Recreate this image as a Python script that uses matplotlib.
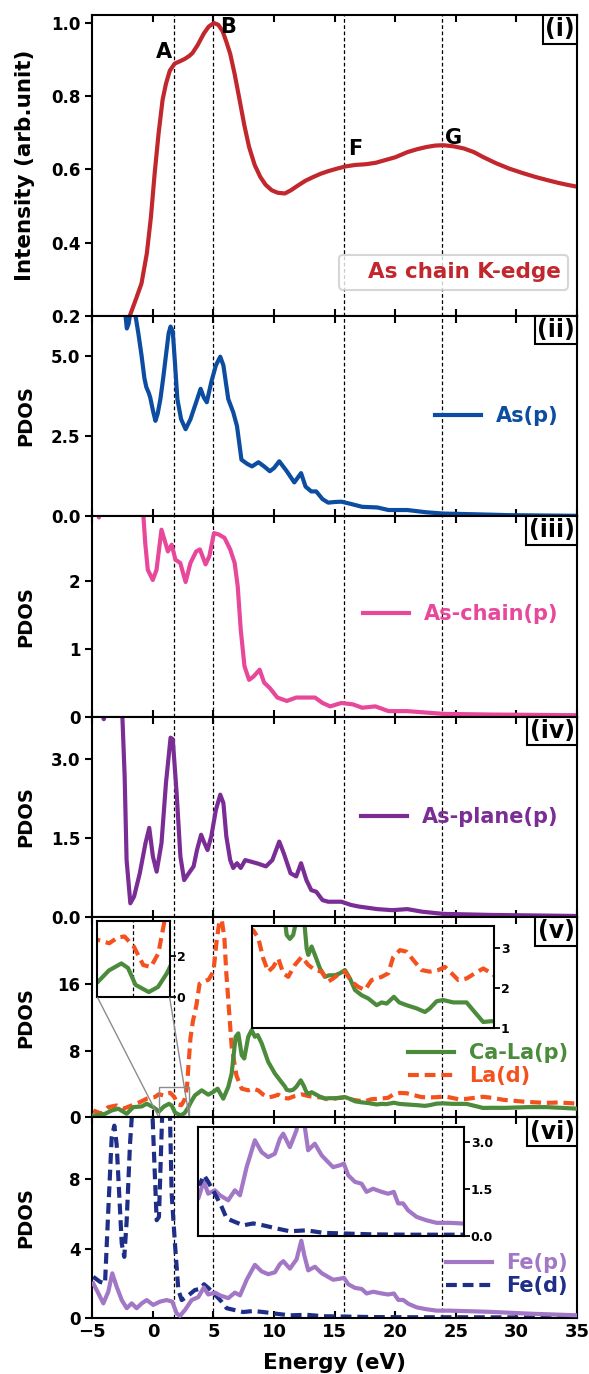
import matplotlib
matplotlib.use('Agg')
import matplotlib.pyplot as plt
from matplotlib.offsetbox import AnchoredText
from mpl_toolkits.axes_grid1.inset_locator import mark_inset

# ---- data ----
# As chain K-edge XANES
kedge_e = [-2.1, -1.9, -1.4, -0.94, -0.5, -0.16, 0.15, 0.47, 0.8, 1.08, 1.4, 1.8, 2.2, 2.64, 3.0, 3.27,
           3.7, 4.2, 4.6, 5.04, 5.4, 5.75, 6.05, 6.38, 6.75, 7.16, 7.55, 7.94, 8.4, 8.87, 9.3, 9.8,
           10.3, 10.89, 11.4, 11.98, 12.6, 13.23, 13.85, 14.47, 15.2, 15.9, 16.7, 17.58, 18.4, 19.14,
           20.0, 21.0, 21.8, 22.56, 23.3, 23.96, 24.8, 25.67, 26.5, 27.23, 28.3, 29.41, 30.5, 31.59,
           32.5, 33.46, 34.3, 35.1]
kedge_i = [0.17, 0.20, 0.245, 0.288, 0.37, 0.47, 0.59, 0.698, 0.79, 0.834, 0.87, 0.889, 0.895, 0.902,
           0.91, 0.918, 0.94, 0.971, 0.99, 1.0, 0.995, 0.978, 0.95, 0.916, 0.86, 0.789, 0.72, 0.661,
           0.612, 0.579, 0.558, 0.543, 0.536, 0.534, 0.543, 0.556, 0.569, 0.579, 0.588, 0.595, 0.602,
           0.608, 0.612, 0.614, 0.618, 0.625, 0.633, 0.647, 0.655, 0.661, 0.665, 0.666, 0.663, 0.657,
           0.647, 0.634, 0.617, 0.602, 0.59, 0.579, 0.571, 0.563, 0.557, 0.552]

# As(p)
asp_e = [-2.6, -2.3, -2.15, -2.0, -1.8, -1.5, -1.2, -0.94, -0.7, -0.54, -0.35, -0.22, 0.0, 0.21, 0.4,
         0.62, 0.85, 1.08, 1.3, 1.46, 1.64, 1.8, 2.02, 2.33, 2.7, 3.1, 3.57, 3.94, 4.2, 4.45, 4.82,
         5.2, 5.56, 5.82, 6.22, 6.63, 6.94, 7.31, 7.78, 8.18, 8.71, 9.18, 9.65, 10.0, 10.43, 11.05,
         11.67, 12.23, 12.6, 13.07, 13.48, 14.0, 14.47, 15.0, 15.56, 16.34, 17.27, 18.52, 19.45, 21.0,
         22.56, 23.96, 26.3, 29.4, 32.0, 35.1]
asp_d = [7.2, 6.4, 5.85, 6.0, 6.5, 6.4, 5.7, 5.02, 4.3, 4.02, 3.85, 3.7, 3.3, 2.97, 3.2, 3.65, 4.3,
         5.02, 5.7, 5.91, 5.76, 4.9, 3.65, 3.02, 2.71, 3.02, 3.55, 3.97, 3.7, 3.55, 4.18, 4.7, 4.97,
         4.7, 3.65, 3.24, 2.81, 1.76, 1.63, 1.55, 1.68, 1.55, 1.40, 1.5, 1.71, 1.40, 1.05, 1.34, 0.92,
         0.77, 0.77, 0.53, 0.42, 0.44, 0.45, 0.38, 0.29, 0.27, 0.19, 0.19, 0.12, 0.08, 0.06, 0.03,
         0.02, 0.01]

# As-chain(p)
chain_e = [-5.0, -4.7, -4.45, -4.2, -3.0, -1.5, -0.8, -0.63, -0.42, -0.01, 0.3, 0.71, 0.96, 1.24, 1.55,
           1.86, 2.26, 2.7, 3.1, 3.57, 3.88, 4.35, 4.66, 5.04, 5.44, 5.91, 6.38, 6.75, 7.0, 7.25, 7.56,
           7.94, 8.31, 8.81, 9.18, 9.65, 10.27, 11.05, 11.83, 12.6, 13.38, 14.0, 14.63, 15.56, 16.5,
           17.27, 18.36, 19.45, 21.0, 23.96, 27.85, 35.1]
chain_d = [3.6, 3.1, 2.93, 3.2, 4.5, 4.0, 3.0, 2.55, 2.16, 2.01, 2.16, 2.75, 2.60, 2.43, 2.53, 2.31,
           2.26, 1.98, 2.26, 2.43, 2.46, 2.24, 2.36, 2.70, 2.68, 2.63, 2.46, 2.26, 1.92, 1.28, 0.74,
           0.54, 0.59, 0.69, 0.50, 0.42, 0.28, 0.23, 0.28, 0.28, 0.28, 0.20, 0.15, 0.20, 0.18, 0.13,
           0.15, 0.08, 0.08, 0.04, 0.03, 0.02]

# As-plane(p)
plane_e = [-5.0, -4.4, -4.05, -3.7, -3.0, -2.6, -2.33, -2.17, -1.86, -1.55, -1.08, -0.61, -0.3, 0.0,
           0.31, 0.71, 1.08, 1.46, 1.64, 1.96, 2.27, 2.58, 2.96, 3.36, 3.64, 3.98, 4.2, 4.51, 4.82,
           5.2, 5.56, 5.82, 6.06, 6.38, 6.63, 6.94, 7.25, 7.62, 8.09, 8.71, 9.33, 9.86, 10.43, 10.8,
           11.36, 11.83, 12.23, 12.67, 13.07, 13.48, 14.0, 14.47, 15.56, 16.34, 16.96, 18.52, 19.76,
           21.0, 22.25, 23.96, 27.85, 35.1]
plane_d = [4.5, 4.0, 3.75, 4.1, 5.0, 4.3, 2.67, 1.08, 0.26, 0.39, 0.83, 1.40, 1.69, 1.15, 0.86, 1.40,
           2.54, 3.40, 3.37, 2.35, 1.15, 0.70, 0.83, 0.96, 1.27, 1.56, 1.43, 1.27, 1.53, 2.03, 2.32,
           2.16, 1.53, 1.08, 0.93, 1.02, 0.93, 1.08, 1.05, 1.01, 0.96, 1.08, 1.43, 1.21, 0.83, 0.77,
           1.02, 0.70, 0.51, 0.48, 0.32, 0.29, 0.29, 0.23, 0.20, 0.15, 0.13, 0.15, 0.10, 0.06, 0.04,
           0.02]

# Ca-La(p)
cala_e = [-4.92, -4.4, -3.95, -3.4, -2.85, -2.16, -1.62, -0.92, -0.51, 0.03, 0.5, 0.9, 1.33, 1.56,
          1.82, 2.28, 2.6, 2.9, 3.2, 3.47, 4.03, 4.57, 4.98, 5.34, 5.81, 6.22, 6.5, 6.83, 7.05, 7.33,
          7.54, 7.87, 8.15, 8.42, 8.65, 8.98, 9.52, 10.07, 10.63, 10.9, 11.04, 11.31, 11.58, 11.85,
          12.2, 12.45, 12.69, 12.82, 13.1, 13.37, 13.79, 14.2, 14.55, 15.03, 15.44, 15.85, 16.26,
          16.68, 17.23, 17.77, 18.47, 18.88, 19.29, 19.89, 20.33, 20.94, 21.77, 22.45, 22.86, 23.42,
          23.96, 24.79, 25.89, 26.44, 27.26, 27.95, 29.0, 30.97, 32.5, 33.8, 35.1]
cala_d = [0.24, 0.3, 0.44, 0.84, 1.05, 0.44, 1.24, 1.32, 1.65, 1.24, 0.72, 1.3, 1.64, 1.42, 0.6, 0.25,
          0.5, 1.15, 2.0, 2.65, 3.25, 2.73, 3.05, 3.45, 2.25, 3.65, 5.26, 9.66, 10.07, 7.46, 7.06,
          9.66, 10.47, 9.66, 9.87, 8.87, 6.65, 5.26, 4.2, 3.7, 3.32, 3.22, 3.32, 3.7, 4.45, 3.8, 2.98,
          2.82, 3.03, 2.82, 2.48, 2.27, 2.31, 2.31, 2.36, 2.44, 2.23, 1.94, 1.81, 1.73, 1.56, 1.63,
          1.60, 1.77, 1.63, 1.56, 1.48, 1.39, 1.48, 1.66, 1.69, 1.63, 1.63, 1.43, 1.14, 1.16, 1.15,
          1.24, 1.24, 1.15, 1.05]

# La(d)
lad_e = [-4.92, -4.23, -3.68, -2.99, -2.44, -1.75, -1.06, -0.51, 0.17, 0.5, 0.91, 1.2, 1.44, 1.76,
         2.09, 2.35, 2.61, 2.81, 2.95, 3.1, 3.3, 3.6, 3.85, 4.2, 4.6, 5.0, 5.25, 5.5, 5.7, 5.9, 6.05,
         6.25, 6.5, 6.9, 7.33, 7.87, 8.28, 8.7, 9.11, 9.52, 9.93, 10.35, 10.76, 11.17, 11.72, 12.28,
         12.82, 13.37, 13.93, 14.47, 14.88, 15.44, 15.85, 16.4, 16.95, 17.5, 18.05, 18.88, 19.42,
         19.84, 20.39, 20.94, 21.49, 22.18, 22.86, 23.55, 24.1, 24.65, 25.2, 25.89, 26.58, 27.26,
         27.95, 29.0, 30.97, 32.5, 33.5, 35.1]
lad_d = [0.84, 0.44, 1.24, 1.44, 1.05, 1.44, 1.85, 2.25, 2.45, 2.79, 2.62, 2.9, 2.95, 2.46, 1.56,
         1.47, 2.13, 3.6, 6.5, 9.5, 11.5, 13.5, 16.0, 16.3, 16.5, 17.5, 21.0, 23.6, 23.5, 21.5, 17.5,
         13.5, 8.5, 5.0, 3.45, 3.25, 3.44, 3.24, 2.73, 2.40, 2.52, 2.73, 2.36, 2.27, 2.57, 2.77, 2.57,
         2.44, 2.40, 2.15, 2.23, 2.36, 2.40, 2.15, 2.02, 1.94, 2.19, 2.27, 2.36, 2.77, 2.94, 2.90,
         2.69, 2.44, 2.40, 2.44, 2.52, 2.36, 2.19, 2.23, 2.36, 2.48, 2.36, 2.1, 1.85, 1.75, 1.8, 1.65]

# Fe(p)
fep_e = [-4.92, -4.5, -4.09, -3.68, -3.35, -2.99, -2.57, -2.16, -1.75, -1.34, -0.92, -0.51, 0.03, 0.59,
         1.14, 1.6, 1.96, 2.24, 2.65, 3.2, 3.75, 4.2, 4.57, 5.12, 5.54, 6.22, 6.77, 7.19, 7.74, 8.42,
         8.98, 9.52, 10.07, 10.49, 10.76, 11.31, 11.86, 12.25, 12.5, 12.82, 13.37, 13.93, 14.47,
         14.88, 15.44, 15.77, 16.13, 16.68, 17.23, 17.64, 18.18, 18.88, 19.42, 19.89, 20.25, 20.66,
         21.07, 21.77, 22.59, 23.42, 24.51, 25.48, 26.5, 27.85, 30.97, 33.0, 35.1]
fep_d = [1.99, 1.42, 0.84, 1.51, 2.57, 1.80, 1.03, 0.56, 0.84, 0.56, 0.84, 1.03, 0.75, 0.94, 1.03,
         0.94, 0.27, 0.12, 0.46, 1.03, 1.2, 1.75, 1.35, 1.46, 1.30, 1.14, 1.46, 1.30, 2.20, 3.06,
         2.68, 2.52, 2.63, 3.11, 3.27, 2.84, 3.38, 4.45, 3.6, 2.74, 2.95, 2.58, 2.36, 2.20, 2.26,
         2.31, 1.94, 1.73, 1.67, 1.41, 1.51, 1.41, 1.35, 1.41, 1.04, 1.04, 0.82, 0.61, 0.50, 0.42,
         0.42, 0.40, 0.38, 0.35, 0.25, 0.2, 0.15]

# Fe(d)
fed_e = [-4.92, -4.36, -3.95, -3.68, -3.4, -3.18, -2.99, -2.57, -2.36, -2.16, -1.89, -1.7, -1.2, -0.5,
         -0.05, 0.31, 0.5, 0.78, 1.1, 1.4, 1.55, 1.82, 2.1, 2.38, 2.79, 3.47, 3.89, 4.22, 4.57, 5.12,
         5.68, 6.09, 6.77, 7.46, 8.28, 9.11, 10.21, 11.31, 12.69, 14.06, 15.71, 18.18, 21.31, 25.6,
         30.0, 35.1]
fed_d = [2.37, 2.08, 1.99, 6.2, 10.4, 11.08, 10.0, 4.29, 3.52, 5.63, 10.0, 12.0, 15.0, 14.0, 12.0,
         5.63, 5.82, 12.0, 14.0, 12.0, 7.16, 4.29, 1.61, 1.03, 1.22, 1.61, 1.67, 1.94, 1.73, 1.35,
         0.93, 0.56, 0.45, 0.34, 0.40, 0.34, 0.24, 0.15, 0.18, 0.10, 0.08, 0.05, 0.04, 0.04, 0.03,
         0.02]

features = [1.75, 5.0, 15.8, 23.85]   # A, B, F, G
panel_tags = ['(i)', '(ii)', '(iii)', '(iv)', '(v)', '(vi)']

c_red = '#c1272d'
c_blue = '#0c4da2'
c_pink = '#e8489a'
c_purple = '#7b2d96'
c_green = '#4b8b3b'
c_orange = '#f4511e'
c_lav = '#a277c6'
c_navy = '#1f2e87'
dash = (0, (2.6, 1.4))

plt.rcParams['font.family'] = 'DejaVu Sans'
plt.rcParams['font.weight'] = 'bold'
plt.rcParams['axes.labelweight'] = 'bold'
plt.rcParams['axes.linewidth'] = 1.5

fig, axes = plt.subplots(6, 1, figsize=(5.89, 13.74), dpi=100, sharex=True,
                         gridspec_kw=dict(height_ratios=[1.5, 1, 1, 1, 1, 1], hspace=0))
fig.subplots_adjust(left=0.1567, right=0.9796, top=0.9891, bottom=0.0408)
ax1, ax2, ax3, ax4, ax5, ax6 = axes
lw = 3


def vlines(ax, lo=-5, hi=35):
    for e in features:
        if lo < e < hi:
            ax.axvline(e, color='k', ls=(0, (3, 2)), lw=0.9, zorder=1)


for ax, tag in zip(axes, panel_tags):
    vlines(ax)
    ax.tick_params(axis='x', direction='in', top=True, length=5, width=1.5, labelsize=13)
    ax.tick_params(axis='y', direction='out', length=5, width=1.5, labelsize=12)
    at = AnchoredText(tag, loc='upper right', prop=dict(fontsize=17, fontweight='bold'),
                      pad=0.1, borderpad=0, frameon=True)
    at.patch.set_boxstyle('square,pad=0')
    at.patch.set_linewidth(1.5)
    at.zorder = 10
    ax.add_artist(at)

# (i) K-edge
ax1.plot(kedge_e, kedge_i, color=c_red, lw=lw, label='As chain K-edge')
ax1.set_ylim(0.2, 1.022)
ax1.set_yticks([0.2, 0.4, 0.6, 0.8, 1.0])
ax1.set_ylabel('Intensity (arb.unit)', fontsize=15.5)
ax1.text(1.6, 0.893, 'A', ha='right', va='bottom', fontsize=15)
ax1.text(5.55, 0.99, 'B', ha='left', va='center', fontsize=15)
ax1.text(16.1, 0.628, 'F', ha='left', va='bottom', fontsize=15)
ax1.text(24.1, 0.658, 'G', ha='left', va='bottom', fontsize=15)
leg = ax1.legend(loc='lower right', bbox_to_anchor=(0.982, 0.086), borderaxespad=0,
                 handlelength=0, handletextpad=1.0, fontsize=15.5, labelcolor='linecolor',
                 borderpad=0.35)
leg.get_frame().set_linewidth(1.5)

line_kw = dict(loc='center right', frameon=False, fontsize=15, handlelength=2.2,
               handletextpad=0.7, labelcolor='linecolor', labelspacing=0.15,
               borderaxespad=0, borderpad=0)

# (ii) As(p)
ax2.plot(asp_e, asp_d, color=c_blue, lw=lw, label='As(p)')
ax2.set_ylim(0, 6.25)
ax2.set_yticks([0.0, 2.5, 5.0])
ax2.set_yticklabels(['0.0', '2.5', '5.0'])
ax2.legend(bbox_to_anchor=(0.961, 0.5), **line_kw)

# (iii) As-chain(p)
ax3.plot(chain_e, chain_d, color=c_pink, lw=lw, label='As-chain(p)')
ax3.set_ylim(0, 2.95)
ax3.set_yticks([0, 1, 2])
ax3.legend(bbox_to_anchor=(0.961, 0.51), **line_kw)

# (iv) As-plane(p)
ax4.plot(plane_e, plane_d, color=c_purple, lw=lw, label='As-plane(p)')
ax4.set_ylim(0, 3.8)
ax4.set_yticks([0.0, 1.5, 3.0])
ax4.set_yticklabels(['0.0', '1.5', '3.0'])
ax4.legend(bbox_to_anchor=(0.961, 0.5), **line_kw)

# (v) Ca-La(p) and La(d)
ax5.plot(cala_e, cala_d, color=c_green, lw=lw, label='Ca-La(p)', zorder=3)
ax5.plot(lad_e, lad_d, color=c_orange, lw=lw, ls=dash, label='La(d)', zorder=2)
ax5.set_ylim(0, 24)
ax5.set_yticks([0, 8, 16])
ax5.legend(bbox_to_anchor=(0.981, 0.265), **line_kw)

# (vi) Fe(p) and Fe(d)
ax6.plot(fep_e, fep_d, color=c_lav, lw=lw, label='Fe(p)', zorder=3)
ax6.plot(fed_e, fed_d, color=c_navy, lw=lw, ls=dash, label='Fe(d)', zorder=2)
ax6.set_ylim(0, 11.55)
ax6.set_yticks([0, 4, 8])
ax6.legend(bbox_to_anchor=(0.981, 0.216), **line_kw)

ax6.set_xlim(-5, 35)
ax6.set_xticks(range(-5, 36, 5))
ax6.set_xlabel('Energy (eV)', fontsize=15.5, labelpad=9)

for ax in axes[1:]:
    ax.set_ylabel('PDOS', fontsize=14)
for ax in axes:
    ax.yaxis.set_label_coords(-0.118, 0.5)


def make_inset(ax, rect, xlim, ylim, yticks, yticklabels, curves):
    ins = ax.inset_axes(rect)
    for xs, ys, col, ls in curves:
        ins.plot(xs, ys, color=col, lw=lw, ls=ls)
    vlines(ins, *xlim)
    ins.set_xlim(*xlim)
    ins.set_ylim(*ylim)
    ins.set_xticks([])
    ins.yaxis.tick_right()
    ins.set_yticks(yticks)
    ins.set_yticklabels(yticklabels)
    ins.tick_params(axis='y', labelsize=9, length=4, width=1.3, pad=1)
    for s in ins.spines.values():
        s.set_linewidth(1.5)
    return ins


pair5 = [(cala_e, cala_d, c_green, '-'), (lad_e, lad_d, c_orange, dash)]
pair6 = [(fep_e, fep_d, c_lav, '-'), (fed_e, fed_d, c_navy, dash)]

ins5a = make_inset(ax5, [0.0105, 0.60, 0.149, 0.38], (0.5, 3.0), (0, 3.7), [0, 2], ['0', '2'], pair5)
box, c1, c2 = mark_inset(ax5, ins5a, loc1=3, loc2=4, fc='none', ec='0.55', lw=1)
for p in (box, c1, c2):
    p.set_zorder(4)
make_inset(ax5, [0.330, 0.4485, 0.499, 0.508], (8.2, 28.16), (1, 3.55), [1, 2, 3], ['1', '2', '3'], pair5)
make_inset(ax6, [0.2187, 0.409, 0.548, 0.543], (3.75, 25.68), (0, 3.48), [0, 1.5, 3.0],
           ['0.0', '1.5', '3.0'], pair6)

fig.savefig('out.png', dpi=100)
